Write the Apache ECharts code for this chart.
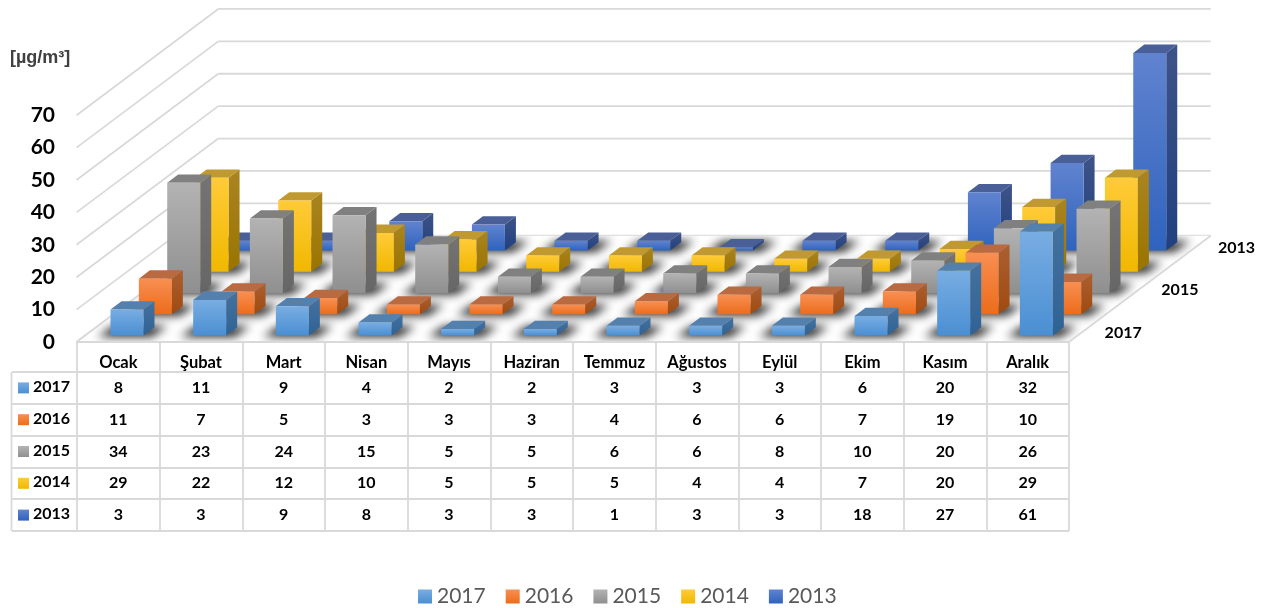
<!DOCTYPE html>
<html><head><meta charset="utf-8">
<style>html,body{margin:0;padding:0;background:#fff}#wrap{position:relative;width:1266px;height:608px}#c{position:absolute;left:0;top:0;width:1266px;height:608px}#u{position:absolute;left:0;top:0}</style>
<script src="https://cdn.jsdelivr.net/npm/echarts@6/dist/echarts.min.js"></script>
</head><body><div id="wrap"><canvas id="u" width="1266" height="608"></canvas><div id="c"></div></div>
<script>
const months = ['Ocak','Şubat','Mart','Nisan','Mayıs','Haziran','Temmuz','Ağustos','Eylül','Ekim','Kasım','Aralık'];
const years = ['2017','2016','2015','2014','2013'];
const depthLabels = ['2017','2015','2013'];
const yTicks = [0,10,20,30,40,50,60,70];
const v2017 = [8,11,9,4,2,2,3,3,3,6,20,32];
const v2016 = [11,7,5,3,3,3,4,6,6,7,19,10];
const v2015 = [34,23,24,15,5,5,6,6,8,10,20,26];
const v2014 = [29,22,12,10,5,5,5,4,4,7,20,29];
const v2013 = [3,3,9,8,3,3,1,3,3,18,27,61];
const valuesByYear = {'2017':v2017,'2016':v2016,'2015':v2015,'2014':v2014,'2013':v2013};

const palette = {
  '2017':{a:'#78ade2',b:'#4a8fd3',top:'#5480ad',s1:'#44729f',s2:'#2f6294'},
  '2016':{a:'#f88f52',b:'#ec6c1b',top:'#ba6a40',s1:'#ab5f30',s2:'#a04a10'},
  '2015':{a:'#b3b3b3',b:'#8f8f8f',top:'#808080',s1:'#747474',s2:'#666666'},
  '2014':{a:'#ffcb38',b:'#f0b800',top:'#c09a30',s1:'#aa8420',s2:'#9a7400'},
  '2013':{a:'#6083cf',b:'#2f63bd',top:'#4a5f98',s1:'#3e5388',s2:'#20407f'}
};
const grad = (a,b)=>new echarts.graphic.LinearGradient(0,0,0,1,[{offset:0,color:a},{offset:1,color:b}]);

// oblique projection of the depth axis
const DX = 28.35, DY = -21.25, ROWS = years.length;
const BAR_W = 33, BAR_DX = 11, BAR_DY = -8.3;
const LINE = '#d9d9d9';
const PLOT = {x:77,y:115.2,width:992,height:226.8};
const bold = s => 'bold '+s+'px Lato';
const seg = (x1,y1,x2,y2)=>({type:'line',shape:{x1,y1,x2,y2},style:{stroke:LINE,lineWidth:1.8}});

function barItem(params, api){
  const row = years.indexOf(params.seriesName);
  const p = palette[params.seriesName];
  const base = api.coord([api.value(0),0]);
  const top = api.coord([api.value(0),api.value(1)]);
  const cx = base[0] + (row+.5)*DX, cy = base[1] + (row+.5)*DY;
  const x0 = cx - BAR_W/2 - BAR_DX/2, y0 = cy - BAR_DY/2;
  const h = base[1]-top[1];
  const x1 = x0+BAR_W, yt = y0-h;
  return {type:'group',children:[
    {type:'polygon',shape:{points:[[x1,y0],[x1+BAR_DX,y0+BAR_DY],[x1+BAR_DX,yt+BAR_DY],[x1,yt]]},style:{fill:grad(p.s1,p.s2)}},
    {type:'polygon',shape:{points:[[x0,yt],[x1,yt],[x1+BAR_DX,yt+BAR_DY],[x0+BAR_DX,yt+BAR_DY]]},style:{fill:p.top}},
    {type:'rect',shape:{x:x0,y:yt,width:BAR_W,height:h},style:{fill:grad(p.a,p.b)}}
  ]};
}
function wallItem(params, api){
  const cs = params.coordSys, y = api.coord([0,api.value(0)])[1];
  const l = cs.x-.5, r = cs.x+cs.width;
  return {type:'group',children:[seg(l,y,l+ROWS*DX,y+ROWS*DY),seg(l+ROWS*DX,y+ROWS*DY,r+ROWS*DX,y+ROWS*DY)]};
}
// Soft floor shading, painted once into a canvas
function paintFloor(cv){
  const cs = PLOT, y = cs.y+cs.height, l = cs.x-.5, r = cs.x+cs.width, cw = cs.width/months.length;
  const g = cv.getContext('2d');
  g.save();
  g.beginPath(); g.moveTo(l,y); g.lineTo(r,y); g.lineTo(r+ROWS*DX,y+ROWS*DY); g.lineTo(l+ROWS*DX,y+ROWS*DY); g.closePath();
  g.fillStyle = '#ffffff'; g.fill(); g.clip();
  const off = 3000;
  g.fillStyle = '#000';
  g.shadowColor = 'rgba(25,25,25,.95)'; g.shadowBlur = 10; g.shadowOffsetX = off;
  const hw = 27, hdx = 8, hdy = -5.5;
  months.forEach((m,i)=>years.forEach((yr,d)=>{
    const cx = l+.5+(i+.5)*cw+(d+.5)*DX-off, cy = y+(d+.5)*DY;
    g.beginPath();
    g.moveTo(cx-hw-hdx,cy-hdy); g.lineTo(cx+hw-hdx,cy-hdy); g.lineTo(cx+hw+hdx,cy+hdy); g.lineTo(cx-hw+hdx,cy+hdy); g.closePath();
    g.fill();
  }));
  g.restore();
  return cv;
}
const floorCanvas = document.createElement('canvas');
floorCanvas.width = 1266; floorCanvas.height = 608;
paintFloor(floorCanvas);
paintFloor(document.getElementById('u'));

function edgeItem(params, api){
  const cs = params.coordSys, y = cs.y+cs.height, l = cs.x-.5, r = cs.x+cs.width;
  return {type:'group',children:[seg(l+ROWS*DX,y+ROWS*DY,l,y),seg(l,y,r,y),seg(r,y,r+ROWS*DX,y+ROWS*DY)]};
}
function depthItem(params, api){
  const cs = params.coordSys, r = cs.x+cs.width, y = cs.y+cs.height;
  const row = years.indexOf(depthLabels[api.value(0)]);
  return {type:'text',style:{text:depthLabels[api.value(0)],x:r+(row+.5)*DX+40,y:y+(row+.5)*DY+1,
    align:'center',verticalAlign:'middle',font:bold(16),fill:'#000'}};
}
function cellItem(params, api){
  const c = api.coord([api.value(0),api.value(1)]);
  return {type:'text',style:{text:String(api.value(2)),x:c[0],y:c[1],align:'center',verticalAlign:'middle',font:bold(16),fill:'#000'}};
}
function rowHeadItem(params, api){
  const c = api.coord([0,api.value(0)]), cs = params.coordSys;
  const yr = years[api.value(0)], p = palette[yr], rh = cs.height/years.length;
  return {type:'group',children:[
    {type:'line',shape:{x1:cs.x-65.5,y1:c[1]-rh/2,x2:cs.x-65.5,y2:c[1]+rh/2},style:{stroke:LINE,lineWidth:1.8}},
    {type:'rect',shape:{x:cs.x-59,y:c[1]-5.5,width:11,height:11},style:{fill:grad(p.a,p.b)}},
    {type:'text',style:{text:yr,x:cs.x-44,y:c[1]-1,align:'left',verticalAlign:'middle',font:bold(16),fill:'#000'}}
  ]};
}
const custom = (o)=>Object.assign({type:'custom',coordinateSystem:'cartesian2d',silent:true,animation:false,clip:false,xAxisIndex:0,yAxisIndex:0},o);

const series = [
  custom({name:'walls',renderItem:wallItem,data:yTicks.map(v=>[v]),encode:{y:0}}),
  custom({name:'edge',zlevel:1,z:3,renderItem:edgeItem,data:[[0]],encode:{y:0}})
];
years.slice().reverse().forEach(y=>{
  series.push(custom({name:y,zlevel:2,renderItem:barItem,encode:{x:0,y:1},
    itemStyle:{color:grad(palette[y].a,palette[y].b)},
    data:valuesByYear[y].map((v,i)=>[i,v])}));
});
series.push(custom({name:'depth',renderItem:depthItem,data:depthLabels.map((d,i)=>[i]),encode:{y:0}}));
const cells=[];
years.forEach((y,r)=>valuesByYear[y].forEach((v,i)=>cells.push([i,r,v])));
series.push(custom({name:'cells',xAxisIndex:1,yAxisIndex:1,renderItem:cellItem,data:cells,encode:{x:0,y:1}}));
series.push(custom({name:'rowHeads',xAxisIndex:1,yAxisIndex:1,renderItem:rowHeadItem,data:years.map((y,i)=>[i]),encode:{y:0}}));

const chart = echarts.init(document.getElementById('c'),null,{renderer:'canvas'});
chart.setOption({
  animation:false,
  backgroundColor:'transparent',
  title:{text:'[µg/m³]',left:5,top:44,textStyle:{fontFamily:'Liberation Sans',fontWeight:'bold',fontSize:18,color:'#404040'}},
  legend:{data:years,left:413,top:581,itemWidth:14,itemHeight:14,itemGap:20,icon:'rect',selectedMode:false,
    textStyle:{fontFamily:'Lato',fontSize:21,color:'#595959'}},
  graphic:{elements:[{type:'image',silent:true,zlevel:1,z:1,x:0,y:0,style:{image:floorCanvas,x:0,y:0,width:1266,height:608}}]},
  grid:[{left:PLOT.x,width:PLOT.width,top:PLOT.y,height:PLOT.height},{left:77,width:992,top:372,height:159}],
  xAxis:[
    {gridIndex:0,type:'category',data:months,axisLine:{show:false},
      axisTick:{show:true,length:30,lineStyle:{color:LINE,width:1.8}},
      axisLabel:{margin:12,interval:0,fontFamily:'Lato',fontWeight:'bold',fontSize:16.5,color:'#000'},splitLine:{show:false}},
    {gridIndex:1,type:'category',data:months,axisLine:{show:false},axisTick:{show:false},axisLabel:{show:false},
      splitLine:{show:true,interval:0,lineStyle:{color:LINE,width:1.8}}}
  ],
  yAxis:[
    {gridIndex:0,type:'value',min:0,max:70,interval:10,axisLine:{show:false},axisTick:{show:false},splitLine:{show:false},
      axisLabel:{margin:22,padding:[4,0,0,0],fontFamily:'Lato',fontWeight:'bold',fontSize:21,color:'#000'}},
    {gridIndex:1,type:'category',inverse:true,data:years,axisLine:{show:false},axisLabel:{show:false},
      axisTick:{show:true,length:65,lineStyle:{color:LINE,width:1.8}},
      splitLine:{show:true,interval:0,lineStyle:{color:LINE,width:1.8}}}
  ],
  series
});
</script></body></html>
